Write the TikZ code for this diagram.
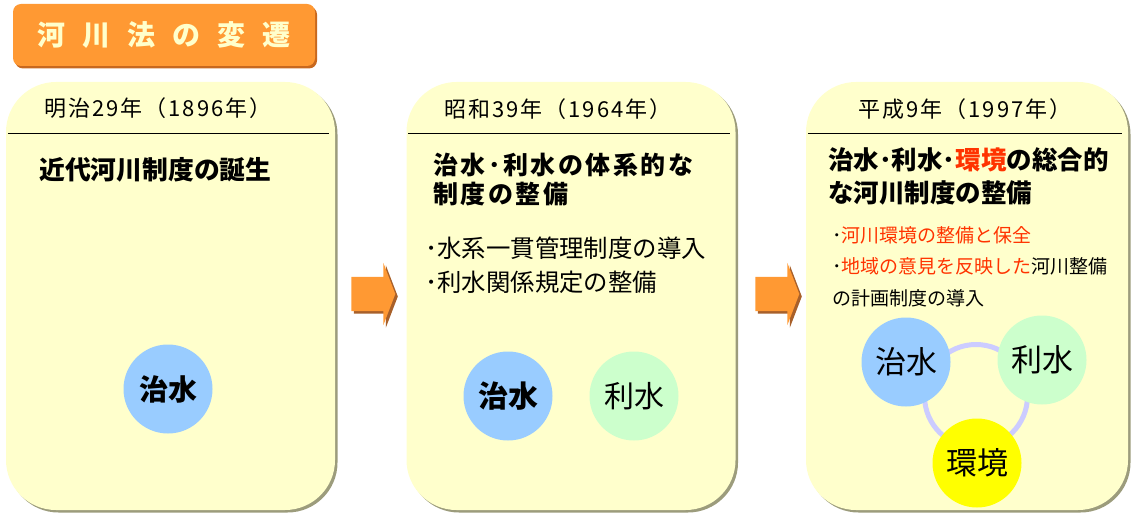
\documentclass[tikz,border=0pt]{standalone}
\usepackage{fontspec}
\setmainfont{Noto Sans CJK JP}
\usetikzlibrary{shapes.arrows,shadows}

\definecolor{panelbg}{HTML}{FFFFCC}
\definecolor{panelsh}{HTML}{9C9C7C}
\definecolor{titlebg}{HTML}{FF9933}
\definecolor{titlesh}{HTML}{C8681E}
\definecolor{titlefg}{HTML}{FFFFCC}
\definecolor{arrowsh}{HTML}{A8602A}
\definecolor{chisui}{HTML}{99CCFF}
\definecolor{risui}{HTML}{CCFFCC}
\definecolor{kankyo}{HTML}{FFFF00}
\definecolor{ringc}{HTML}{CCCCFF}
\definecolor{hred}{HTML}{FF3300}
\newcommand{\tgap}{\hspace{17pt}}

\begin{document}
\begin{tikzpicture}[x=1pt,y=-1pt,
  panel/.style={fill=panelbg, rounded corners=50pt, inner sep=0pt, minimum width=329pt, minimum height=428pt,
    drop shadow={fill=panelsh, opacity=1, shadow xshift=2.5pt, shadow yshift=-2.5pt}},
  titlebox/.style={fill=titlebg, rounded corners=8pt, minimum width=302pt, minimum height=62pt, text=titlefg,
    font=\bfseries\fontsize{28}{28}\selectfont,
    drop shadow={fill=titlesh, opacity=1, shadow xshift=2pt, shadow yshift=-2.5pt}},
  hdr/.style={inner sep=0pt, font=\fontsize{22}{22}\selectfont\addfontfeature{LetterSpace=9}},
  hline/.style={line width=1.2pt},
  head/.style={inner sep=0pt, anchor=west, align=left, font=\bfseries\fontsize{24}{31}\selectfont},
  item/.style={inner sep=0pt, anchor=west, align=left, font=\fontsize{24.4}{34}\selectfont},
  circ/.style={circle, inner sep=0pt, minimum size=89pt, font=\fontsize{30}{30}\selectfont},
  arrowbox/.style={single arrow, fill=titlebg, inner xsep=0pt, inner ysep=17pt, minimum height=44pt,
    single arrow head extend=14pt, single arrow tip angle=138,
    drop shadow={fill=arrowsh, opacity=1, shadow xshift=2.5pt, shadow yshift=-2.5pt}},
]
\useasboundingbox (0,0) rectangle (1131,513);

% title
\node[titlebox] (title) at (164,35) {\raisebox{-2pt}{河\tgap 川\tgap 法\tgap の\tgap 変\tgap 遷}};

% panels
\node[panel] (p1) at (170.5,296) {};
\node[panel] (p2) at (571,296) {};
\node[panel, minimum width=322pt] (p3) at (967,296) {};

\node[arrowbox] (a1) at (370,294) {};
\node[arrowbox] (a2) at (774,294) {};

% year headers
\node[hdr] (y1) at (158,108) {明治29年（1896年）};
\node[hdr] (y2) at (558,109) {昭和39年（1964年）};
\node[hdr] (y3) at (965,109) {平成9年（1997年）};
\foreach \p in {p1,p2,p3}
  \draw[hline] ([xshift=2pt,yshift=-52pt]\p.north west) -- ([xshift=-6pt,yshift=-52pt]\p.north east);

% Meiji
\node[head, font=\bfseries\fontsize{25.8}{31}\selectfont] (t1) at (39,170) {近代河川制度の誕生};
\node[circ, fill=chisui, font=\bfseries\fontsize{29}{29}\selectfont] (c1) at (168,389) {治水};

% Showa
\node[head, font=\bfseries\fontsize{25}{29}\selectfont\addfontfeature{LetterSpace=10}] (t2) at (433,179.5)
  {治水･利水の体系的な\\制度の整備};
\node[item] (b2) at (425,265) {･水系一貫管理制度の導入\\･利水関係規定の整備};
\node[circ, fill=chisui, font=\bfseries\fontsize{30}{30}\selectfont] (c2a) at (508,396) {治水};
\node[circ, fill=risui] (c2b) at (634,396) {利水};

% Heisei
\node[head, font=\bfseries\fontsize{25.5}{33}\selectfont] (t3) at (828,176.5)
  {治水･利水･{\color{hred}環境}の総合的\\な河川制度の整備};
\node[item, font=\fontsize{19}{31.5}\selectfont] (b3) at (832,266.5)
  {･{\color{hred}河川環境の整備と保全}\\･{\color{hred}地域の意見を反映した}河川整備\\の計画制度の導入};
\node[circle, draw=ringc, line width=5pt, minimum size=103pt] (r3) at (976,396) {};
\node[circ, fill=chisui, font=\fontsize{31}{31}\selectfont] (c3a) at (906,362) {治水};
\node[circ, fill=risui, font=\fontsize{31}{31}\selectfont] (c3b) at (1042,360) {利水};
\node[circ, fill=kankyo, font=\fontsize{31}{31}\selectfont] (c3c) at (977,463) {環境};
\end{tikzpicture}
\end{document}
